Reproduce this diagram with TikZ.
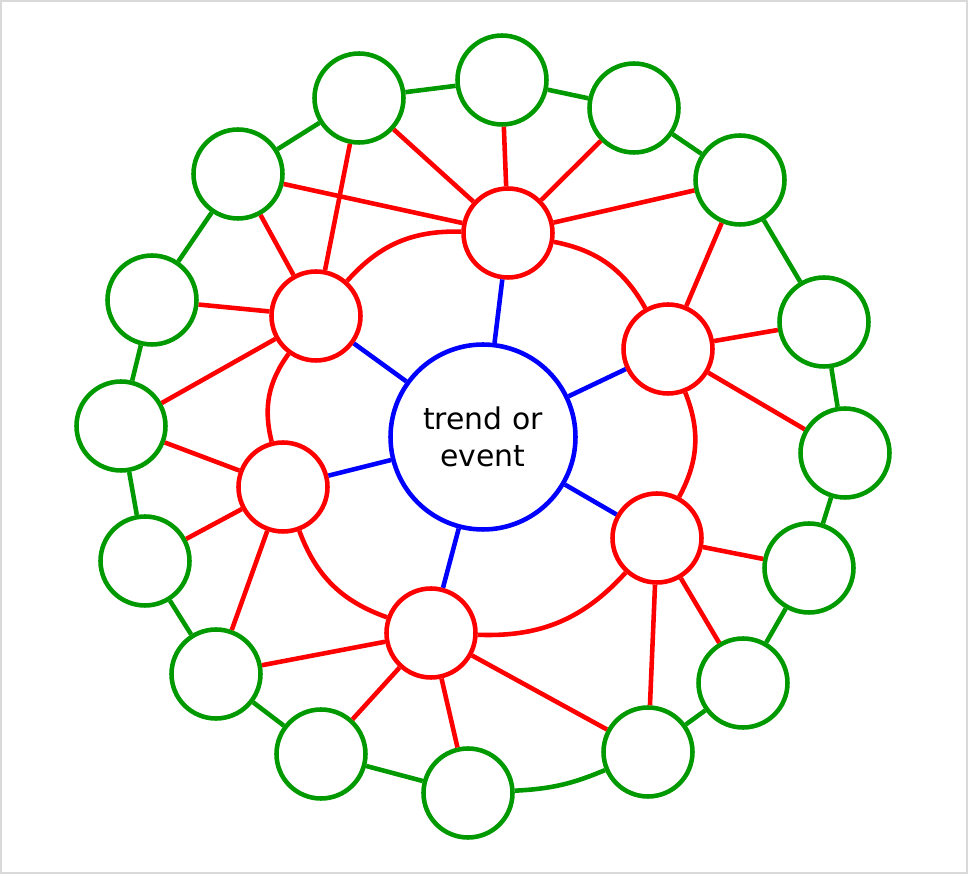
\documentclass[tikz,border=0pt]{standalone}
\usepackage{fontspec}
\setmainfont{DejaVu Sans}
\usetikzlibrary{positioning}
\begin{document}
\begin{tikzpicture}[x=0.02cm,y=-0.02cm,line width=2.6pt,
  hub/.style={draw=blue,circle,minimum size=3.7cm,inner sep=0pt,align=center,font=\fontsize{17}{21}\selectfont},
  inner/.style={draw=red,circle,minimum size=1.78cm,inner sep=0pt},
  outer/.style={draw=green!60!black,circle,minimum size=1.78cm,inner sep=0pt}]
  \draw[gray!30,line width=0.6pt] (1,1) rectangle (967,873);
  \useasboundingbox (0,0) rectangle (968,874);
  \node[hub] (c) at (483,437) {trend or\\event};

  \node[inner] (r1) at (508,233) {};
  \node[inner] (r2) at (316,316) {};
  \node[inner] (r3) at (668,349) {};
  \node[inner] (r4) at (283,487) {};
  \node[inner] (r5) at (657,538) {};
  \node[inner] (r6) at (431,633) {};

  \node[outer] (g1) at (502,80) {};
  \node[outer] (g2) at (359,98) {};
  \node[outer] (g3) at (634,108) {};
  \node[outer] (g4) at (238,174) {};
  \node[outer] (g5) at (740,180) {};
  \node[outer] (g6) at (152,300) {};
  \node[outer] (g7) at (824,322) {};
  \node[outer] (g8) at (121,426) {};
  \node[outer] (g9) at (845,453) {};
  \node[outer] (g10) at (145,561) {};
  \node[outer] (g11) at (809,568) {};
  \node[outer] (g12) at (216,674) {};
  \node[outer] (g13) at (743,683) {};
  \node[outer] (g14) at (321,754) {};
  \node[outer] (g15) at (648,752) {};
  \node[outer] (g16) at (468,793) {};

  \draw[green!60!black](g1)--(g2) (g1)--(g3) (g2)--(g4) (g3)--(g5) (g4)--(g6) (g5)--(g7) (g6)--(g8) (g7)--(g9) (g8)--(g10) (g9)--(g11) (g10)--(g12) (g11)--(g13) (g12)--(g14) (g13)--(g15) (g14)--(g16);
  \draw[green!60!black](g16) to[bend right=10] (g15);

  \draw[blue](c)--(r1) (c)--(r2) (c)--(r3) (c)--(r4) (c)--(r5) (c)--(r6);

  \draw[red](r1) to[bend left=25] (r3);
  \draw[red](r3) to[bend left=25] (r5);
  \draw[red](r5) to[bend left=25] (r6);
  \draw[red](r6) to[bend left=25] (r4);
  \draw[red](r4) to[bend left=25] (r2);
  \draw[red](r2) to[bend left=25] (r1);

  \draw[red](r1)--(g1) (r1)--(g2) (r1)--(g3) (r1)--(g4) (r1)--(g5);
  \draw[red](r2)--(g2) (r2)--(g4) (r2)--(g6) (r2)--(g8);
  \draw[red](r3)--(g5) (r3)--(g7) (r3)--(g9);
  \draw[red](r4)--(g8) (r4)--(g10) (r4)--(g12);
  \draw[red](r5)--(g11) (r5)--(g13) (r5)--(g15);
  \draw[red](r6)--(g12) (r6)--(g14) (r6)--(g16) (r6)--(g15);
\end{tikzpicture}
\end{document}
